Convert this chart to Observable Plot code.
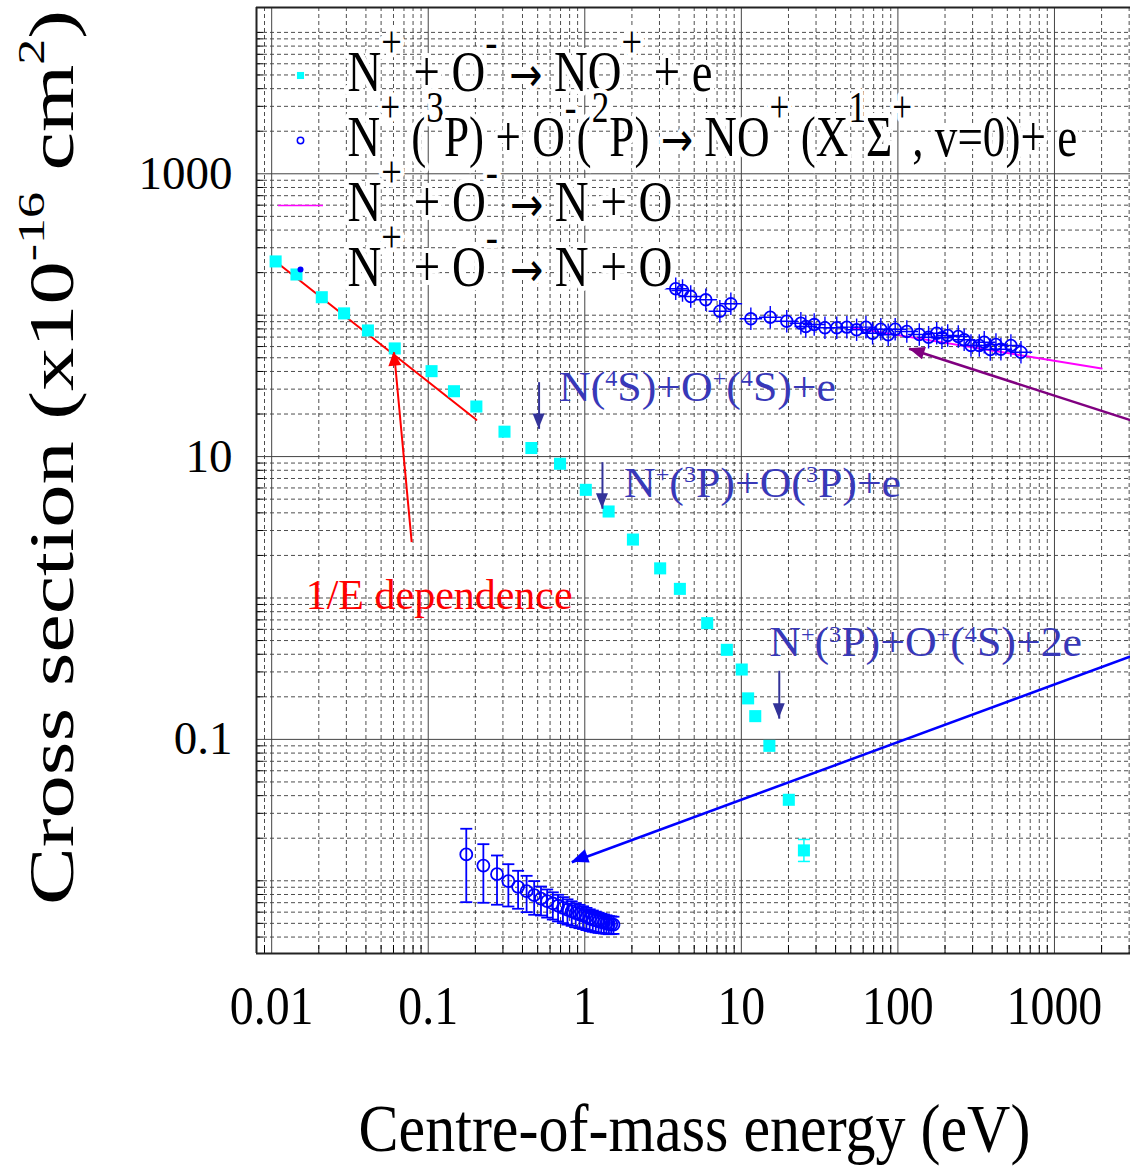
<!DOCTYPE html>
<html><head><meta charset="utf-8">
<script src="https://cdn.jsdelivr.net/npm/d3@7"></script>
<script src="https://cdn.jsdelivr.net/npm/@observablehq/plot@0.6"></script>
<style>html,body{margin:0;padding:0;background:#fff;} svg{display:block}</style>
</head><body><div id="chart"></div>
<script>
// ---------------- data ----------------
// N+ + O- -> NO+ + e (cyan squares)
const cyanE = [0.0106, 0.0144, 0.0209, 0.029, 0.0412, 0.0611, 0.105, 0.146, 0.203, 0.307, 0.456, 0.695, 1.015, 1.42, 2.03, 3.03, 4.05, 6.05, 8.08, 10.06, 11.05, 12.27, 15.1, 20.1, 25.1];
const cyanS = [240, 194, 134, 103, 78, 58.2, 40.2, 29.0, 22.6, 15.0, 11.5, 8.9, 5.82, 4.09, 2.59, 1.62, 1.16, 0.664, 0.43, 0.312, 0.195, 0.146, 0.090, 0.0374, 0.0164];
const cyanErrE = [25.1];
const cyanErrLo = [0.0137];
const cyanErrHi = [0.0196];

// N+(3P) + O-(2P) -> NO+(X, v=0) + e (open circles with error bars)
const lowE = [0.175, 0.225, 0.275, 0.325, 0.375, 0.425, 0.475, 0.525, 0.575, 0.625, 0.675, 0.725, 0.775, 0.825, 0.875, 0.925, 0.975, 1.025, 1.075, 1.125, 1.175, 1.225, 1.275, 1.325, 1.375, 1.425, 1.475, 1.525];
const lowS = [0.01535, 0.01282, 0.01113, 0.00994, 0.00907, 0.00844, 0.00791, 0.00749, 0.00717, 0.00691, 0.00666, 0.00644, 0.00624, 0.00607, 0.0059, 0.00578, 0.00566, 0.00553, 0.00541, 0.00532, 0.00524, 0.00516, 0.0051, 0.00505, 0.00499, 0.00493, 0.00491, 0.00489];
const lowHi = [0.02333, 0.01815, 0.0151, 0.0131, 0.01177, 0.01084, 0.00994, 0.00911, 0.00868, 0.00829, 0.00796, 0.00766, 0.00739, 0.00716, 0.00693, 0.00676, 0.0066, 0.00643, 0.00628, 0.00616, 0.00605, 0.00594, 0.00585, 0.00578, 0.0057, 0.00563, 0.0056, 0.00557];
const lowLo = [0.00706, 0.00699, 0.00677, 0.00658, 0.00634, 0.006, 0.00575, 0.00568, 0.00549, 0.00532, 0.00516, 0.00502, 0.0049, 0.0048, 0.00469, 0.00462, 0.00456, 0.00448, 0.00441, 0.00436, 0.00432, 0.00428, 0.00426, 0.00424, 0.00422, 0.00419, 0.0042, 0.00421];

// N+ + O- -> N + O (blue crossed circles)
const highE = [3.81, 4.21, 4.75, 5.93, 7.29, 8.57, 11.5, 15.3, 19.5, 24.0, 25.8, 29.2, 34.2, 40.7, 47.2, 54.5, 62.5, 68.9, 77.8, 86.7, 96.1, 114, 137, 157, 177, 191, 208, 243, 265, 293, 331, 356, 389, 423, 455, 527, 611];
const highS = [153.8, 149.6, 135.6, 128.5, 106.7, 120.4, 94.3, 96.8, 90.7, 87.8, 83.2, 85.9, 81.5, 81.5, 82.3, 78.8, 82.3, 74.6, 79.6, 72.7, 79.6, 76.7, 73.0, 69.9, 74.6, 69.2, 71.9, 70.7, 67.0, 61.1, 61.1, 64.4, 57.2, 62.1, 57.5, 61.1, 54.7];

// N+ + O- -> N + O (magenta curve)
const curveE = [50, 2000];
const curveS = [82, 42];

// 1/E dependence line
const fitE = [0.0106, 0.203];
const fitS = [240, 18.2];

// tick labels
const xTicks = [0.01, 0.1, 1, 10, 100, 1000];
const yTicks = [0.1, 10, 1000];

// annotations (data anchors)
const arrows = [
  {x1: 0.0784, y1: 2.48, x2: 0.0605, y2: 54.7, kind: "red"},
  {x1: 0.5105, y1: 33.6, x2: 0.5105, y2: 15.7, kind: "navy"},
  {x1: 1.297, y1: 9.13, x2: 1.297, y2: 4.27, kind: "navy"},
  {x1: 17.47, y1: 0.3055, x2: 17.47, y2: 0.140, kind: "navy"},
  {x1: 3100, y1: 18.0, x2: 118, y2: 57.9, kind: "purple"},
  {x1: 3100, y1: 0.388, x2: 0.826, y2: 0.01353, kind: "blue"}
];
const thresholdLabels = [
  {x: 0.685, y: 24.9, text: "N(^{4}S)+O^{+}(^{4}S)+e"},
  {x: 1.782, y: 5.22, text: "N^{+}(^{3}P)+O(^{3}P)+e"},
  {x: 15.06, y: 0.386, text: "N^{+}(^{3}P)+O^{+}(^{4}S)+2e"}
];
const fitLabel = [{x: 0.0165, y: 0.839, text: "1/E dependence"}];
const legendRows = [
  "N^{+} + O^{-} → NO^{+} + e",
  "N^{+} (^{3}P) + O^{-}(^{2}P) → NO^{+} (X^{1}Σ^{+}, v=0)+ e",
  "N^{+} + O^{-} → N + O",
  "N^{+} + O^{-} → N + O"
];
const xTitle = "Centre-of-mass energy (eV)";
const yTitle = "Cross section (x10^{-16} cm^{2})";

// ---------------- tables ----------------
const cyan = cyanE.map((e, i) => ({e, s: cyanS[i]}));
const cyanErr = cyanErrE.map((e, i) => ({e, lo: cyanErrLo[i], hi: cyanErrHi[i]}));
const low = lowE.map((e, i) => ({e, s: lowS[i], lo: lowLo[i], hi: lowHi[i]}));
const high = highE.map((e, i) => ({e, s: highS[i]}));
const curve = curveE.map((e, i) => ({e, s: curveS[i]}));
const fit = fitE.map((e, i) => ({e, s: fitS[i]}));

// ---------------- layout / style ----------------
const W = 1130, H = 1175, ML = 256, MR = 0, MT = 7, MB = 222;
const xDomain = [0.008, 3060], yDomain = [0.00306, 15000];
const FW = W - ML - MR, FH = H - MT - MB;
const CYAN = "#00ffff", BLUE = "#0000ff", MAGENTA = "#ff00ff", RED = "#ff0000";
const ANN = "#3838b8";
const FONT = "Liberation Serif";
const arrowStyle = {
  red: {color: "#ff0000", width: 2, head: 14, headW: 13},
  navy: {color: "#333399", width: 2, head: 15, headW: 12},
  purple: {color: "#800080", width: 2.5, head: 16, headW: 13},
  blue: {color: "#0000ff", width: 2.5, head: 17, headW: 14}
};

function minorTicks(domain, majors) {
  const out = [];
  for (let k = -4; k <= 5; k++) for (let m = 1; m <= 9; m++) {
    const v = +(m * Math.pow(10, k)).toPrecision(3);
    if (v >= domain[0] && v <= domain[1] && !majors.includes(v)) out.push(v);
  }
  return out;
}
const minorX = minorTicks(xDomain, xTicks);
const minorY = minorTicks(yDomain, yTicks);

const hline = {draw(ctx, size) { const r = Math.sqrt(size / Math.PI); ctx.moveTo(-r, 0); ctx.lineTo(r, 0); }};

// text fitting registry
const fits = {};
let tagN = 0;
function label(data, opts, fitSpec) {
  const tag = "lbl" + (tagN++);
  fits[tag] = fitSpec || {};
  return Plot.text(data, {fontFamily: FONT, ...opts, ariaDescription: tag});
}

function arrowHeads(index, scales) {
  const g = d3.create("svg:g").attr("aria-label", "arrowheads");
  for (const a of arrows) {
    const st = arrowStyle[a.kind];
    const x1 = scales.x(a.x1), y1 = scales.y(a.y1), x2 = scales.x(a.x2), y2 = scales.y(a.y2);
    const ang = Math.atan2(y2 - y1, x2 - x1);
    const bx = x2 - st.head * Math.cos(ang), by = y2 - st.head * Math.sin(ang);
    const px = -Math.sin(ang) * st.headW / 2, py = Math.cos(ang) * st.headW / 2;
    g.append("path")
      .attr("d", `M${x2},${y2}L${bx + px},${by + py}L${bx - px},${by - py}Z`)
      .attr("fill", st.color);
  }
  return g.node();
}

const dash = {stroke: "#000", strokeWidth: 0.7, strokeDasharray: "4,3"};
const marks = [
  // grid
  Plot.ruleX(minorX, dash),
  Plot.ruleY(minorY, dash),
  Plot.ruleX(xTicks, {stroke: "#444", strokeWidth: 1}),
  Plot.ruleY(yTicks, {stroke: "#444", strokeWidth: 1}),
  // small inward ticks
  Plot.ruleX(minorX, {stroke: "#000", strokeWidth: 1, insetTop: FH - 8}),
  Plot.ruleY(minorY, {stroke: "#000", strokeWidth: 1, insetRight: FW - 7}),
  // frame (left, bottom, top)
  Plot.ruleX([xDomain[0]], {stroke: "#222", strokeWidth: 2}),
  Plot.ruleY([yDomain[0]], {stroke: "#222", strokeWidth: 2}),
  Plot.ruleY([yDomain[1]], {stroke: "#222", strokeWidth: 2}),
  // 1/E line and magenta curve
  Plot.line(fit, {x: "e", y: "s", stroke: RED, strokeWidth: 2}),
  Plot.line(curve, {x: "e", y: "s", stroke: MAGENTA, strokeWidth: 2}),
  // cyan squares
  Plot.ruleX(cyanErr, {x: "e", y1: "lo", y2: "hi", stroke: CYAN, strokeWidth: 1.5}),
  Plot.dot(cyanErr, {x: "e", y: "lo", symbol: hline, r: 6, fill: "none", stroke: CYAN, strokeWidth: 1.5}),
  Plot.dot(cyanErr, {x: "e", y: "hi", symbol: hline, r: 6, fill: "none", stroke: CYAN, strokeWidth: 1.5}),
  Plot.dot(cyan, {x: "e", y: "s", symbol: "square", r: 6.8, fill: CYAN}),
  // low-energy circles with error bars
  Plot.ruleX(low, {x: "e", y1: "lo", y2: "hi", stroke: BLUE, strokeWidth: 1.8}),
  Plot.dot(low, {x: "e", y: "lo", symbol: hline, r: 6, fill: "none", stroke: BLUE, strokeWidth: 1.8}),
  Plot.dot(low, {x: "e", y: "hi", symbol: hline, r: 6, fill: "none", stroke: BLUE, strokeWidth: 1.8}),
  Plot.dot(low, {x: "e", y: "s", r: 6, fill: "none", stroke: BLUE, strokeWidth: 1.8}),
  // high-energy crossed circles
  Plot.dot(high, {x: "e", y: "s", r: 5.8, fill: "none", stroke: BLUE, strokeWidth: 1.8}),
  Plot.dot(high, {x: "e", y: "s", symbol: "plus", r: 7.3, fill: "none", stroke: BLUE, strokeWidth: 1.4}),
  // arrows
  ...Object.keys(arrowStyle).map(k => Plot.link(arrows, {filter: d => d.kind === k, x1: "x1", y1: "y1", x2: "x2", y2: "y2", stroke: arrowStyle[k].color, strokeWidth: arrowStyle[k].width})),
  arrowHeads,
  // annotation texts
  ...thresholdLabels.map((d, i) => label([d], {x: "x", y: "y", text: "text", fill: ANN, fontSize: 43, textAnchor: "start", lineAnchor: "bottom"}, {width: [277, 277, 313][i], sup: 0.55, raise: 0.34})),
  label(fitLabel, {x: "x", y: "y", text: "text", fill: RED, fontSize: 42, textAnchor: "start", lineAnchor: "bottom"}, {width: 267}),
  // legend
  ...legendRows.map((t, i) => label([t], {text: d => d, frameAnchor: "top-left", dx: 91, dy: [83, 148, 213, 278][i], fontSize: 56, fill: "#000", textAnchor: "start", lineAnchor: "bottom", stroke: "white", strokeWidth: 10, strokeLinejoin: "round", paintOrder: "stroke"}, {width: [365, 730, 325, 325][i], sup: 0.78, raise: 0.6})),
  Plot.dot([0], {frameAnchor: "top-left", dx: 44, dy: 68, symbol: "square", r: 4, fill: CYAN}),
  Plot.dot([0], {frameAnchor: "top-left", dx: 44, dy: 133, r: 3.2, fill: "none", stroke: BLUE, strokeWidth: 1.5}),
  Plot.dot([0], {frameAnchor: "top-left", dx: 44, dy: 198, symbol: hline, r: 22.5, fill: "none", stroke: MAGENTA, strokeWidth: 1.5}),
  Plot.dot([0], {frameAnchor: "top-left", dx: 44, dy: 262, r: 3, fill: BLUE}),
  // tick labels
  label(xTicks, {x: d => d, text: d => String(d), frameAnchor: "bottom", dy: 70, fontSize: 55, fill: "#000", textAnchor: "middle", lineAnchor: "bottom"}, {sx: 0.87}),
  label(yTicks, {y: d => d, text: d => String(d), frameAnchor: "left", dx: -24, fontSize: 47, fill: "#000", textAnchor: "end", lineAnchor: "middle"}, {sx: 1}),
  // titles
  label([xTitle], {text: d => d, frameAnchor: "bottom", dx: 1, dy: 197, fontSize: 68, fill: "#000", textAnchor: "middle", lineAnchor: "bottom"}, {width: 672}),
  label([yTitle], {text: d => d, frameAnchor: "left", dx: -184, dy: -23, rotate: -90, fontSize: 64, fill: "#000", textAnchor: "middle", lineAnchor: "bottom"}, {width: 895, sup: 0.6, raise: 0.45})
];

const chart = Plot.plot({
  width: W, height: H,
  marginLeft: ML, marginRight: MR, marginTop: MT, marginBottom: MB,
  style: {background: "white", fontFamily: FONT, overflow: "hidden"},
  x: {type: "log", domain: xDomain, axis: null},
  y: {type: "log", domain: yDomain, axis: null},
  marks
});
document.getElementById("chart").appendChild(chart);

// ---------------- rich text (superscripts, arrow glyph) + horizontal fitting ----------------
const NS = "http://www.w3.org/2000/svg";
function richText(el, supScale, raise) {
  const raw = el.textContent;
  el.style.whiteSpace = "pre";
  if (!raw.includes("^{") && !raw.includes("→")) return;
  const fs = parseFloat(getComputedStyle(el).fontSize);
  const parts = [];
  const re = /\^\{([^}]*)\}|→/g;
  let last = 0, m;
  while ((m = re.exec(raw))) {
    if (m.index > last) parts.push([raw.slice(last, m.index), "n"]);
    if (m[0] === "→") parts.push(["→", "arrow"]);
    else parts.push([m[1], "sup"]);
    last = re.lastIndex;
  }
  if (last < raw.length) parts.push([raw.slice(last), "n"]);
  el.textContent = "";
  let lifted = false;
  for (const [t, kind] of parts) {
    const ts = document.createElementNS(NS, "tspan");
    ts.textContent = t;
    const sup = kind === "sup";
    if (sup && !lifted) { ts.setAttribute("dy", (-raise * fs).toFixed(2)); lifted = true; }
    else if (!sup && lifted) { ts.setAttribute("dy", (raise * fs).toFixed(2)); lifted = false; }
    if (sup) ts.setAttribute("font-size", (supScale * fs).toFixed(2));
    if (kind === "arrow") { ts.setAttribute("font-family", "DejaVu Sans"); ts.setAttribute("font-size", (0.85 * fs).toFixed(2)); }
    el.appendChild(ts);
  }
}
d3.select(chart).selectAll("g[aria-description]").each(function () {
  const spec = fits[this.getAttribute("aria-description")];
  if (!spec) return;
  d3.select(this).selectAll("text").each(function () {
    richText(this, spec.sup ?? 0.62, spec.raise ?? 0.42);
    const w = this.getBBox().width;
    const sx = spec.width ? spec.width / w : (spec.sx ?? 1);
    const t = this.getAttribute("transform") || "";
    this.setAttribute("transform", `${t} scale(${sx.toFixed(4)},1)`);
  });
});
</script></body></html>
